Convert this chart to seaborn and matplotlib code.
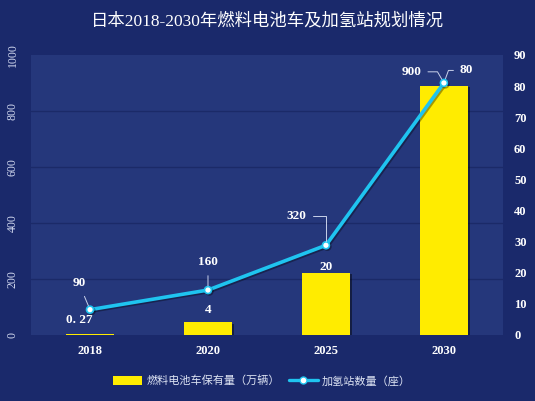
import numpy as np
import matplotlib
matplotlib.use("Agg")
import matplotlib.pyplot as plt
import matplotlib.patheffects as pe
from matplotlib.patches import Patch
from matplotlib.lines import Line2D
import seaborn as sns

# Datos
years = ["2018", "2020", "2025", "2030"]
fcv = [0.27, 4, 20, 80]            # 燃料电池车保有量（万辆）- eje derecho
stations = [90, 160, 320, 900]     # 加氢站数量（座）- eje izquierdo
left_ticks = [0, 200, 400, 600, 800, 1000]
right_ticks = [0, 10, 20, 30, 40, 50, 60, 70, 80, 90]

fig_bg = "#1a296b"
ax_bg = "#25377b"
grid_c = "#1b2a68"
bar_c = "#ffec00"
line_c = "#1fc4f0"

sns.set_theme(style="white")
plt.rcParams["font.family"] = ["Liberation Serif", "Noto Sans CJK SC"]

fig = plt.figure(figsize=(5.35, 4.01), dpi=100, facecolor=fig_bg)
ax = fig.add_axes([0.058, 0.165, 0.882, 0.698])
ax.set_facecolor(ax_bg)

# Barras (eje derecho)
sns.barplot(x=years, y=fcv, color=bar_c, width=0.4, saturation=1, linewidth=0,
            edgecolor="none", ax=ax, zorder=2)
for p in ax.patches:
    p.set_path_effects([pe.SimplePatchShadow(offset=(2, -1), shadow_rgbFace="black", alpha=0.45), pe.Normal()])
ax.set_ylim(0, 90)
ax.set_xlim(-0.5, 3.5)
ax.set_xlabel("")
ax.set_ylabel("")

# Línea (eje izquierdo)
ax2 = ax.twinx()
xs = np.arange(len(years))
sns.lineplot(x=xs, y=stations, color=line_c, linewidth=2.6, marker="o", markersize=5,
             markerfacecolor="white", markeredgecolor=line_c, markeredgewidth=1.2, ax=ax2,
             path_effects=[pe.SimpleLineShadow(offset=(1, -1), shadow_color="black", alpha=0.35), pe.Normal()])
ax2.set_ylim(0, 1000)
ax2.set_ylabel("")

# Ejes: barras a la derecha, línea a la izquierda
ax.yaxis.tick_right()
ax.set_yticks(right_ticks)
ax.set_yticklabels([str(t) for t in right_ticks], color="white", fontsize=9, fontweight="bold")
ax.set_yticks(np.array(left_ticks[1:-1]) * 90 / 1000, minor=True)
ax.yaxis.set_minor_formatter(plt.NullFormatter())
ax.grid(which="minor", axis="y", color=grid_c, linewidth=1)
ax.grid(which="major", visible=False)
ax.tick_params(axis="y", which="both", length=0, pad=8, labelleft=False, labelright=True)
ax.tick_params(axis="x", length=0, pad=7)
for lbl in ax.get_xticklabels():
    lbl.set_color("white")
    lbl.set_fontsize(9)
    lbl.set_fontweight("bold")

ax2.yaxis.tick_left()
ax2.set_yticks(left_ticks)
ax2.set_yticklabels([str(t) for t in left_ticks], rotation=90, va="center", color="#d0d7ee", fontsize=8.5)
ax2.tick_params(axis="y", length=0, pad=9, labelleft=True, labelright=False)
for a in (ax, ax2):
    for s in a.spines.values():
        s.set_visible(False)

lbl_kw = dict(color="white", fontsize=9.5, fontweight="bold", textcoords="offset points",
              ha="center", va="center")
lead = dict(arrowstyle="-", color="#c9d1ea", linewidth=0.7, shrinkA=3, shrinkB=3)

# Etiquetas de la línea
ax2.annotate(str(stations[0]), (xs[0], stations[0]), xytext=(-8, 19), arrowprops=lead, **lbl_kw)
ax2.annotate(str(stations[1]), (xs[1], stations[1]), xytext=(0, 20), arrowprops=lead, **lbl_kw)
ax2.annotate(str(stations[2]), (xs[2], stations[2]), xytext=(-21, 21),
             arrowprops=dict(lead, connectionstyle="angle,angleA=0,angleB=90,rad=0", shrinkA=2), **lbl_kw)
ax2.annotate(str(stations[3]), (xs[3], stations[3]), xytext=(-23, 8),
             arrowprops=dict(lead, connectionstyle="angle,angleA=0,angleB=120,rad=0", shrinkA=2), **lbl_kw)

# Etiquetas de las barras
ax.annotate("0. 27", (0, fcv[0]), xytext=(-8, 10), **lbl_kw)
ax.annotate(str(fcv[1]), (1, fcv[1]), xytext=(0, 9), **lbl_kw)
ax.annotate(str(fcv[2]), (2, fcv[2]), xytext=(0, 4), **lbl_kw)
ax.annotate(str(fcv[3]), (3, stations[3] * 90 / 1000), xytext=(16, 9),
            arrowprops=dict(lead, connectionstyle="angle,angleA=0,angleB=70,rad=0", shrinkA=2), **lbl_kw)

# Título
fig.text(0.5, 0.948, "日本2018-2030年燃料电池车及加氢站规划情况", color="white",
         fontsize=12.5, ha="center", va="center")

# Leyenda
handles = [Patch(facecolor=bar_c, edgecolor="none"),
           Line2D([0], [0], color=line_c, linewidth=2.4, marker="o", markersize=5,
                  markerfacecolor="white", markeredgecolor=line_c)]
leg = fig.legend(handles, ["燃料电池车保有量（万辆）", "加氢站数量（座）"], loc="center",
                 bbox_to_anchor=(0.49, 0.05), ncol=2, frameon=False, fontsize=8,
                 handlelength=2.6, handleheight=0.9, columnspacing=0.8, handletextpad=0.4)
for t in leg.get_texts():
    t.set_color("#dde3f3")

fig.savefig("out.png", dpi=100, facecolor=fig_bg)
